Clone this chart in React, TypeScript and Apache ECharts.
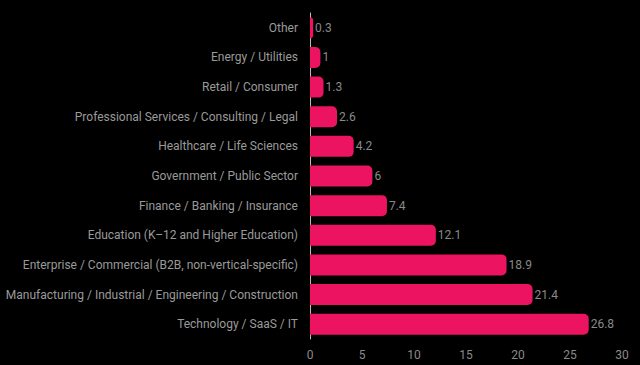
import React, { useEffect, useRef } from "react";
import * as echarts from "echarts";

const categories = [
  "Technology / SaaS / IT",
  "Manufacturing / Industrial / Engineering / Construction",
  "Enterprise / Commercial (B2B, non-vertical-specific)",
  "Education (K–12 and Higher Education)",
  "Finance / Banking / Insurance",
  "Government / Public Sector",
  "Healthcare / Life Sciences",
  "Professional Services / Consulting / Legal",
  "Retail / Consumer",
  "Energy / Utilities",
  "Other",
];
const values = [26.8, 21.4, 18.9, 12.1, 7.4, 6, 4.2, 2.6, 1.3, 1, 0.3];

export default function App() {
  const ref = useRef<HTMLDivElement>(null);
  useEffect(() => {
    const chart = echarts.init(ref.current!, null, { renderer: "svg" });
    const font = "Roboto";
    chart.setOption({
      animation: false,
      backgroundColor: "#000000",
      grid: { left: 310, right: 18, top: 13, bottom: 26, containLabel: false },
      xAxis: {
        type: "value",
        min: 0,
        max: 30,
        interval: 5,
        axisLine: { show: false },
        axisTick: { show: false },
        splitLine: { show: false },
        axisLabel: { color: "#8a8a8a", fontSize: 12, fontFamily: font, margin: 10 },
      },
      yAxis: {
        type: "category",
        data: categories,
        axisLine: { show: true, lineStyle: { color: "#bbbbbb", width: 1 } },
        axisTick: { show: false },
        axisLabel: { color: "#9a9a9a", fontSize: 12, fontFamily: font, margin: 12 },
      },
      series: [
        {
          type: "bar",
          data: values,
          barWidth: 21,
          itemStyle: { color: "#EC1360", borderRadius: [0, 5, 5, 0] },
          label: {
            show: true,
            position: "right",
            distance: 2,
            color: "#8a8a8a",
            fontSize: 12,
            fontFamily: font,
          },
        },
      ],
    });
    return () => chart.dispose();
  }, []);
  return <div ref={ref} style={{ width: 640, height: 365, position: "absolute", left: 0, top: 0 }} />;
}
